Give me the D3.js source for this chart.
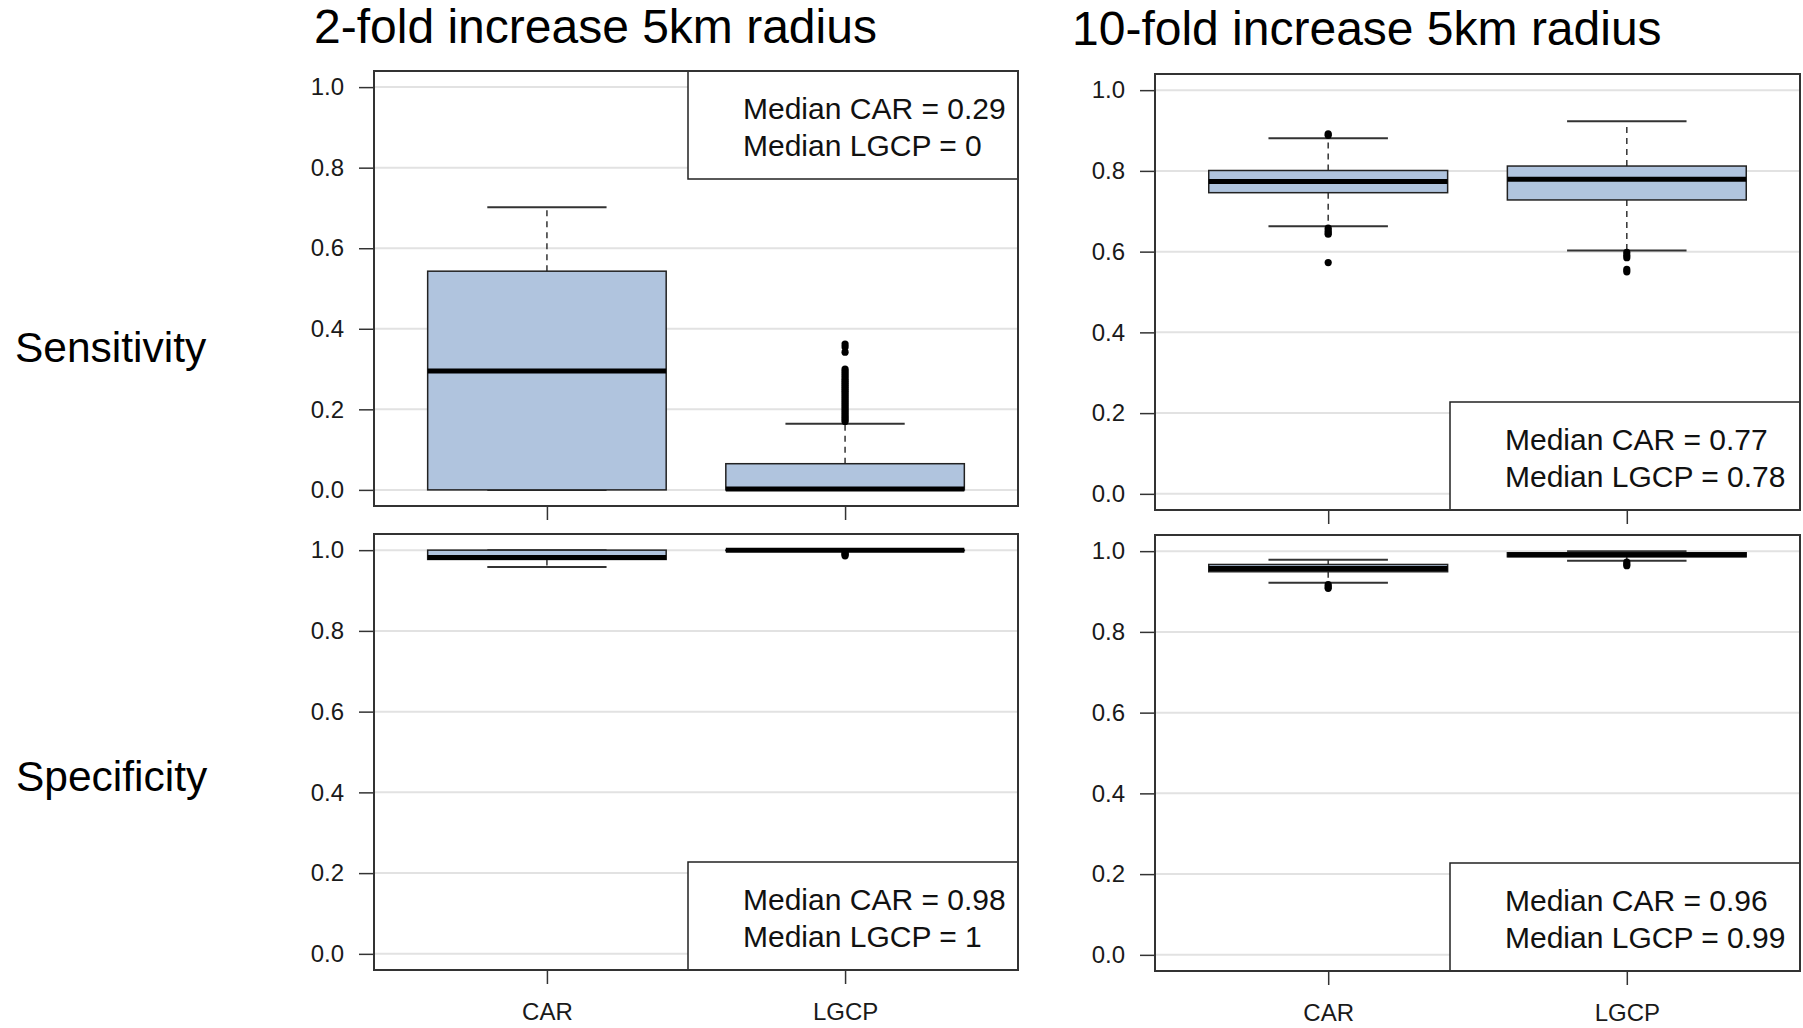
<!DOCTYPE html>
<html>
<head>
<meta charset="utf-8">
<script src="https://cdn.jsdelivr.net/npm/d3@7"></script>
<style>
  body { margin: 0; background: #fff; }
  svg { display: block; font-family: 'Liberation Sans', Arial, sans-serif; }
</style>
</head>
<body>
<svg id="chart" width="1803" height="1028"></svg>
<script>
const categories = ['CAR', 'LGCP'];
const yTicks = [0, 0.2, 0.4, 0.6, 0.8, 1.0];
const columnTitles = ['2-fold increase 5km radius', '10-fold increase 5km radius'];
const rowLabels = ['Sensitivity', 'Specificity'];

// [lower whisker, q1, median, q3, upper whisker] for CAR and LGCP
const sens2fold = [[0, 0, 0.295, 0.543, 0.702], [0, 0, 0.002, 0.065, 0.164]];
const sens10fold = [[0.663, 0.746, 0.774, 0.801, 0.881], [0.603, 0.728, 0.779, 0.812, 0.923]];
const spec2fold = [[0.958, 0.977, 0.982, 1.0, 1.0], [0.998, 0.999, 1.0, 1.0, 1.0]];
const spec10fold = [[0.922, 0.949, 0.957, 0.967, 0.979], [0.976, 0.986, 0.991, 0.996, 1.0]];

const sens2foldOut = [[], [0.17, 0.175, 0.18, 0.185, 0.19, 0.195, 0.2, 0.205, 0.21, 0.215, 0.22, 0.225, 0.23, 0.235,
  0.24, 0.245, 0.25, 0.255, 0.26, 0.265, 0.27, 0.275, 0.28, 0.285, 0.29, 0.295, 0.3, 0.342, 0.355, 0.362]];
const sens10foldOut = [[0.888, 0.892, 0.658, 0.652, 0.647, 0.643, 0.573], [0.598, 0.591, 0.585, 0.556, 0.55]];
const spec2foldOut = [[], [0.996, 0.992, 0.989, 0.986]];
const spec10foldOut = [[0.917, 0.912, 0.908], [0.973, 0.968, 0.964]];

const sens2foldLegend = ['Median CAR = 0.29', 'Median LGCP = 0'];
const sens10foldLegend = ['Median CAR = 0.77', 'Median LGCP = 0.78'];
const spec2foldLegend = ['Median CAR = 0.98', 'Median LGCP = 1'];
const spec10foldLegend = ['Median CAR = 0.96', 'Median LGCP = 0.99'];

const svg = d3.select('#chart');

const panels = [
  { box: { left: 374, right: 1018, top: 71, bottom: 506 }, stats: sens2fold, outliers: sens2foldOut,
    legend: sens2foldLegend, legendAt: 'top', legendLeft: 688, showLabels: false },
  { box: { left: 1155, right: 1800, top: 74, bottom: 510 }, stats: sens10fold, outliers: sens10foldOut,
    legend: sens10foldLegend, legendAt: 'bottom', legendLeft: 1450, showLabels: false },
  { box: { left: 374, right: 1018, top: 534, bottom: 970 }, stats: spec2fold, outliers: spec2foldOut,
    legend: spec2foldLegend, legendAt: 'bottom', legendLeft: 688, showLabels: true },
  { box: { left: 1155, right: 1800, top: 535, bottom: 971 }, stats: spec10fold, outliers: spec10foldOut,
    legend: spec10foldLegend, legendAt: 'bottom', legendLeft: 1450, showLabels: true },
];

panels.forEach(drawPanel);

// column titles and row labels
svg.append('text').attr('x', 314).attr('y', 43).attr('font-size', 48).text(columnTitles[0]);
svg.append('text').attr('x', 1072).attr('y', 45).attr('font-size', 48).text(columnTitles[1]);
svg.append('text').attr('x', 15).attr('y', 347).attr('dominant-baseline', 'central')
  .attr('font-size', 42.5).text(rowLabels[0]);
svg.append('text').attr('x', 16).attr('y', 776).attr('dominant-baseline', 'central')
  .attr('font-size', 42.5).text(rowLabels[1]);

function drawPanel(p) {
  const b = p.box;
  const g = svg.append('g');

  const xScale = d3.scaleLinear().domain([0.42, 2.58]).range([b.left, b.right]);
  const yScale = d3.scaleLinear().domain([-0.04, 1.04]).range([b.bottom, b.top]);

  // gridlines
  g.append('g')
    .selectAll('line')
    .data(yTicks)
    .join('line')
    .attr('x1', b.left).attr('x2', b.right)
    .attr('y1', (d) => yScale(d)).attr('y2', (d) => yScale(d))
    .attr('stroke', '#e2e2e2')
    .attr('stroke-width', 2);

  // y axis
  const yAxis = g.append('g')
    .attr('transform', `translate(${b.left}, 0)`)
    .call(d3.axisLeft(yScale).tickValues(yTicks).tickFormat(d3.format('.1f')).tickSize(15).tickPadding(15));
  yAxis.select('.domain').remove();
  yAxis.selectAll('line').attr('stroke', '#333').attr('stroke-width', 1.5);
  yAxis.selectAll('text').attr('font-size', 24).attr('fill', '#1a1a1a')
    .attr('font-family', "'Liberation Sans', Arial, sans-serif");

  // x axis
  const xAxis = g.append('g')
    .attr('transform', `translate(0, ${b.bottom})`)
    .call(d3.axisBottom(xScale).tickValues([1, 2])
      .tickFormat((d) => (p.showLabels ? categories[d - 1] : ''))
      .tickSize(14).tickPadding(19));
  xAxis.select('.domain').remove();
  xAxis.selectAll('line').attr('stroke', '#333').attr('stroke-width', 1.5);
  xAxis.selectAll('text').attr('font-size', 24).attr('fill', '#1a1a1a')
    .attr('font-family', "'Liberation Sans', Arial, sans-serif");

  const boxW = 0.4;
  const capW = 0.2;

  p.stats.forEach((s, i) => {
    const cx = i + 1;
    const [lo, q1, med, q3, hi] = s;
    const bg = g.append('g');

    // whiskers (dashed) and caps
    bg.append('line')
      .attr('x1', xScale(cx)).attr('x2', xScale(cx))
      .attr('y1', yScale(q3)).attr('y2', yScale(hi))
      .attr('stroke', '#333').attr('stroke-width', 1.5).attr('stroke-dasharray', '6,5');
    bg.append('line')
      .attr('x1', xScale(cx)).attr('x2', xScale(cx))
      .attr('y1', yScale(q1)).attr('y2', yScale(lo))
      .attr('stroke', '#333').attr('stroke-width', 1.5).attr('stroke-dasharray', '6,5');
    [lo, hi].forEach((v) => {
      bg.append('line')
        .attr('x1', xScale(cx - capW)).attr('x2', xScale(cx + capW))
        .attr('y1', yScale(v)).attr('y2', yScale(v))
        .attr('stroke', '#333').attr('stroke-width', 2);
    });

    bg.append('rect')
      .attr('x', xScale(cx - boxW))
      .attr('width', xScale(cx + boxW) - xScale(cx - boxW))
      .attr('y', yScale(q3))
      .attr('height', yScale(q1) - yScale(q3))
      .attr('fill', '#b0c4de')
      .attr('stroke', '#222')
      .attr('stroke-width', 1.5);

    bg.append('line')
      .attr('x1', xScale(cx - boxW)).attr('x2', xScale(cx + boxW))
      .attr('y1', yScale(med)).attr('y2', yScale(med))
      .attr('stroke', '#000').attr('stroke-width', 5);

    bg.selectAll('circle')
      .data(p.outliers[i])
      .join('circle')
      .attr('cx', xScale(cx))
      .attr('cy', (d) => yScale(d))
      .attr('r', 3.6)
      .attr('fill', '#000');
  });

  // legend box
  const legH = 108;
  const legTop = p.legendAt === 'top' ? b.top : b.bottom - legH;
  g.append('rect')
    .attr('x', p.legendLeft).attr('y', legTop)
    .attr('width', b.right - p.legendLeft).attr('height', legH)
    .attr('fill', '#fff').attr('stroke', '#222').attr('stroke-width', 1.5);
  g.selectAll('.legend-text')
    .data(p.legend)
    .join('text')
    .attr('class', 'legend-text')
    .attr('x', p.legendLeft + 55)
    .attr('y', (d, i) => legTop + 37 + i * 37)
    .attr('dominant-baseline', 'central')
    .attr('font-size', 30)
    .attr('fill', '#111')
    .text((d) => d);

  // plot frame
  g.append('rect')
    .attr('x', b.left).attr('y', b.top)
    .attr('width', b.right - b.left).attr('height', b.bottom - b.top)
    .attr('fill', 'none').attr('stroke', '#333').attr('stroke-width', 2);
}
</script>
</body>
</html>
